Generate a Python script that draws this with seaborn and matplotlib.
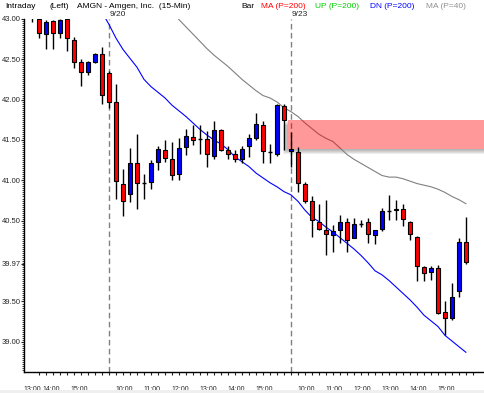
import numpy as np
import pandas as pd
import matplotlib
matplotlib.use('Agg')
import matplotlib.pyplot as plt
import seaborn as sns
from matplotlib.patches import Rectangle
from matplotlib.transforms import blended_transform_factory

# --- data: AMGN 15-min bars ---
opens = [43.08, 43.00, 42.81, 42.97, 42.82, 43.00, 42.74, 42.46, 42.34, 42.47,
         42.56, 42.33, 41.97, 40.95, 40.83, 41.21, 40.97, 40.98, 41.23, 41.38,
         41.26, 41.08, 41.41, 41.54, 41.51, 41.51, 41.30, 41.62, 41.38, 41.33,
         41.27, 41.43, 41.53, 41.68, 41.35, 41.32, 41.92, 41.36, 41.35, 40.95,
         40.74, 40.48, 40.38, 40.32, 40.39, 40.48, 40.29, 40.46, 40.48, 40.32,
         40.40, 40.62, 40.64, 40.64, 40.48, 40.30, 39.93, 39.86, 39.91, 39.37,
         39.30, 39.63, 40.24]
highs = [43.12, 43.02, 42.99, 42.99, 43.00, 43.01, 42.78, 42.50, 42.48, 42.58,
         42.65, 42.35, 42.19, 41.14, 41.40, 41.57, 41.08, 41.25, 41.43, 41.50,
         41.47, 41.53, 41.63, 41.69, 41.69, 41.61, 41.73, 41.63, 41.43, 41.38,
         41.43, 41.57, 41.83, 41.73, 41.45, 41.95, 41.95, 41.60, 41.41, 40.98,
         40.80, 40.71, 40.76, 40.45, 40.57, 40.53, 40.53, 40.51, 40.53, 40.38,
         40.66, 40.82, 40.76, 40.71, 40.50, 40.31, 39.94, 39.94, 39.95, 39.50,
         39.73, 40.28, 40.54]
lows = [42.96, 42.76, 42.63, 42.63, 42.76, 42.60, 42.39, 42.17, 42.31, 42.45,
        41.94, 41.90, 40.77, 40.56, 40.73, 40.64, 40.77, 40.89, 41.13, 41.23,
        41.00, 41.00, 41.31, 41.44, 41.32, 41.17, 41.27, 41.36, 41.27, 41.23,
        41.21, 41.29, 41.50, 41.22, 41.22, 41.30, 41.38, 41.17, 40.86, 40.72,
        40.30, 40.39, 40.08, 40.11, 40.22, 40.11, 40.28, 40.42, 40.23, 40.21,
        40.37, 40.51, 40.51, 40.43, 40.26, 39.75, 39.75, 39.76, 39.34, 39.09,
        39.27, 39.56, 39.96]
closes = [43.05, 42.82, 42.96, 42.82, 42.99, 42.76, 42.47, 42.34, 42.46, 42.56,
          42.06, 41.97, 40.99, 40.74, 41.22, 40.97, 40.97, 41.22, 41.39, 41.28,
          41.07, 41.40, 41.55, 41.50, 41.51, 41.32, 41.62, 41.37, 41.33, 41.27,
          41.39, 41.52, 41.70, 41.36, 41.35, 41.93, 41.75, 41.39, 40.97, 40.74,
          40.51, 40.40, 40.33, 40.37, 40.48, 40.26, 40.46, 40.46, 40.33, 40.38,
          40.62, 40.62, 40.63, 40.52, 40.33, 39.94, 39.85, 39.91, 39.36, 39.30,
          39.56, 40.24, 39.99]

# lower band DN(P=200), from bar 10 on
dn_first_bar = 10
dn_values = [43.08, 42.93, 42.76, 42.62, 42.51, 42.40, 42.25, 42.16, 42.09, 42.02,
             41.93, 41.86, 41.79, 41.71, 41.63, 41.56, 41.50, 41.45, 41.38, 41.29,
             41.23, 41.17, 41.09, 41.03, 40.97, 40.92, 40.86, 40.82, 40.74, 40.63,
             40.54, 40.49, 40.42, 40.36, 40.29, 40.22, 40.15, 40.07, 39.98, 39.88,
             39.83, 39.76, 39.68, 39.60, 39.52, 39.43, 39.33, 39.26, 39.19, 39.08,
             39.01, 38.94, 38.87]

# MA(P=40), from bar 20 on
ma40_first_bar = 20
ma40_values = [43.09, 42.99, 42.90, 42.81, 42.72, 42.63, 42.55, 42.48, 42.41, 42.33,
               42.25, 42.18, 42.11, 42.05, 42.02, 41.97, 41.90, 41.85, 41.79, 41.71,
               41.64, 41.57, 41.52, 41.48, 41.40, 41.32, 41.26, 41.21, 41.16, 41.11,
               41.06, 41.04, 41.04, 41.02, 40.99, 40.96, 40.94, 40.92, 40.89, 40.85,
               40.80, 40.76, 40.71]

# shaded zone
zone_low, zone_high = 41.39, 41.75
zone_start_bar = 36.6

day_first_bars = [11, 37]
day_labels = ['9/20', '9/23']

hour_labels = ['13:00', '14:00', '15:00',
               '10:00', '11:00', '12:00', '13:00', '14:00', '15:00',
               '10:00', '11:00', '12:00', '13:00', '14:00', '15:00']
y_tick_values = [43.00, 42.50, 42.00, 41.50, 41.00, 40.50, 39.97, 39.50, 39.00]

# --- figure ---
sns.set_style('white')
plt.rcParams['font.family'] = ['Liberation Sans', 'DejaVu Sans']

W, H = 485, 393
fig = plt.figure(figsize=(W / 100, H / 100), dpi=100)
ax_left, ax_right, ax_top, ax_bottom = 24, 485, 18.8, 372
ax = fig.add_axes([ax_left / W, (H - ax_bottom) / H,
                   (ax_right - ax_left) / W, (ax_bottom - ax_top) / H])

bar_px = 7.0
x_lo = -(32 - ax_left) / bar_px
ax.set_xlim(x_lo, x_lo + (ax_right - ax_left) / bar_px)
ax.set_ylim(38.627, 43.0)

df = pd.DataFrame({'bar': np.arange(len(opens)), 'open': opens, 'high': highs,
                   'low': lows, 'close': closes})
up = df['close'] > df['open']
down = df['close'] < df['open']
flat = ~(up | down)
body_w = 0.64

# white backing under the zone so its shadow does not show through
x_far = 80
ax.add_patch(Rectangle((zone_start_bar, zone_low), x_far, zone_high - zone_low,
                       facecolor='white', edgecolor='none', zorder=1.5))
for k in range(1, 6):
    dx = k / bar_px
    dy = k * (ax.get_ylim()[1] - ax.get_ylim()[0]) / (ax_bottom - ax_top)
    ax.add_patch(Rectangle((zone_start_bar - dx, zone_low - dy), x_far, zone_high - zone_low,
                           facecolor='#404040', edgecolor='none', alpha=0.09, zorder=1.4))

for b in day_first_bars:
    ax.axvline(b, color='#808080', lw=1, ls=(0, (4, 2.5)), zorder=1.8)

line_df = pd.DataFrame({'bar': np.arange(dn_first_bar, dn_first_bar + len(dn_values)),
                        'value': dn_values})
sns.lineplot(data=line_df, x='bar', y='value', ax=ax, color='#0000ff', lw=0.8, zorder=2)
ma_df = pd.DataFrame({'bar': np.arange(ma40_first_bar, ma40_first_bar + len(ma40_values)),
                      'value': ma40_values})
sns.lineplot(data=ma_df, x='bar', y='value', ax=ax, color='#808080', lw=0.8, zorder=2)

ax.add_patch(Rectangle((zone_start_bar, zone_low), x_far, zone_high - zone_low,
                       facecolor='#ff0000', edgecolor='none', alpha=0.4, zorder=2.5))

# candles
ax.vlines(df['bar'], df['low'], df['high'], color='black', lw=1, zorder=3)
ax.bar(df['bar'][up], (df['close'] - df['open'])[up], bottom=df['open'][up], width=body_w,
       color='#0000ff', edgecolor='black', lw=0.8, zorder=4)
ax.bar(df['bar'][down], (df['close'] - df['open'])[down], bottom=df['open'][down], width=body_w,
       color='#ff0000', edgecolor='black', lw=0.8, zorder=4)
ax.hlines(df['close'][flat], df['bar'][flat] - body_w / 2, df['bar'][flat] + body_w / 2,
          color='black', lw=1, zorder=4)

# axes styling
for s in ['top', 'right']:
    ax.spines[s].set_visible(False)
for s in ['left', 'bottom']:
    ax.spines[s].set_color('black')
    ax.spines[s].set_linewidth(1)
ax.set_xlabel('')
ax.set_ylabel('')

hour_pos = [0.0, 2.7, 6.7]
for b in day_first_bars:
    hour_pos += [b + 2.2 + 4 * k for k in range(6)]
ax.set_xticks(hour_pos)
ax.set_xticklabels(hour_labels, fontsize=5)
ax.set_xticks(np.arange(0, 64), minor=True)
ax.tick_params(axis='x', which='major', length=0, pad=10)
ax.tick_params(axis='x', which='minor', length=2.5, width=0.8, direction='out', bottom=True)

ax.set_yticks(y_tick_values)
ax.set_yticklabels([f'{v:.2f}' for v in y_tick_values], fontsize=5.5)
ax.set_yticks(np.arange(38.65, 43.0, 0.025), minor=True)
ax.tick_params(axis='y', which='major', length=2, width=0.8, pad=0.3, left=True)
ax.tick_params(axis='y', which='minor', length=1.2, width=0.6, left=True)

# day labels above the plot
tr = blended_transform_factory(ax.transData, fig.transFigure)
for b, lab in zip(day_first_bars, day_labels):
    ax.text(b + 0.15, 1 - 14 / H, lab, transform=tr, fontsize=6, ha='left', va='center',
            clip_on=False)

# header line
header = [(5, 'Intraday', 'black'), (50, '(Left)', 'black'),
          (77, 'AMGN - Amgen, Inc.  (15-Min)', 'black'), (241, 'Bar', 'black'),
          (261, 'MA (P=200)', '#ff0000'), (315, 'UP (P=200)', '#00cc00'),
          (370, 'DN (P=200)', '#0000ff'), (426, 'MA (P=40)', '#909090')]
for px, txt, col in header:
    fig.text(px / W, 1 - 6 / H, txt, fontsize=6, color=col, ha='left', va='center')

# light window strip at the very bottom
fig.patches.append(Rectangle((0, 0), 1, 3 / H, transform=fig.transFigure,
                             facecolor='#efefef', edgecolor='none'))

fig.savefig('out.png', dpi=100)
